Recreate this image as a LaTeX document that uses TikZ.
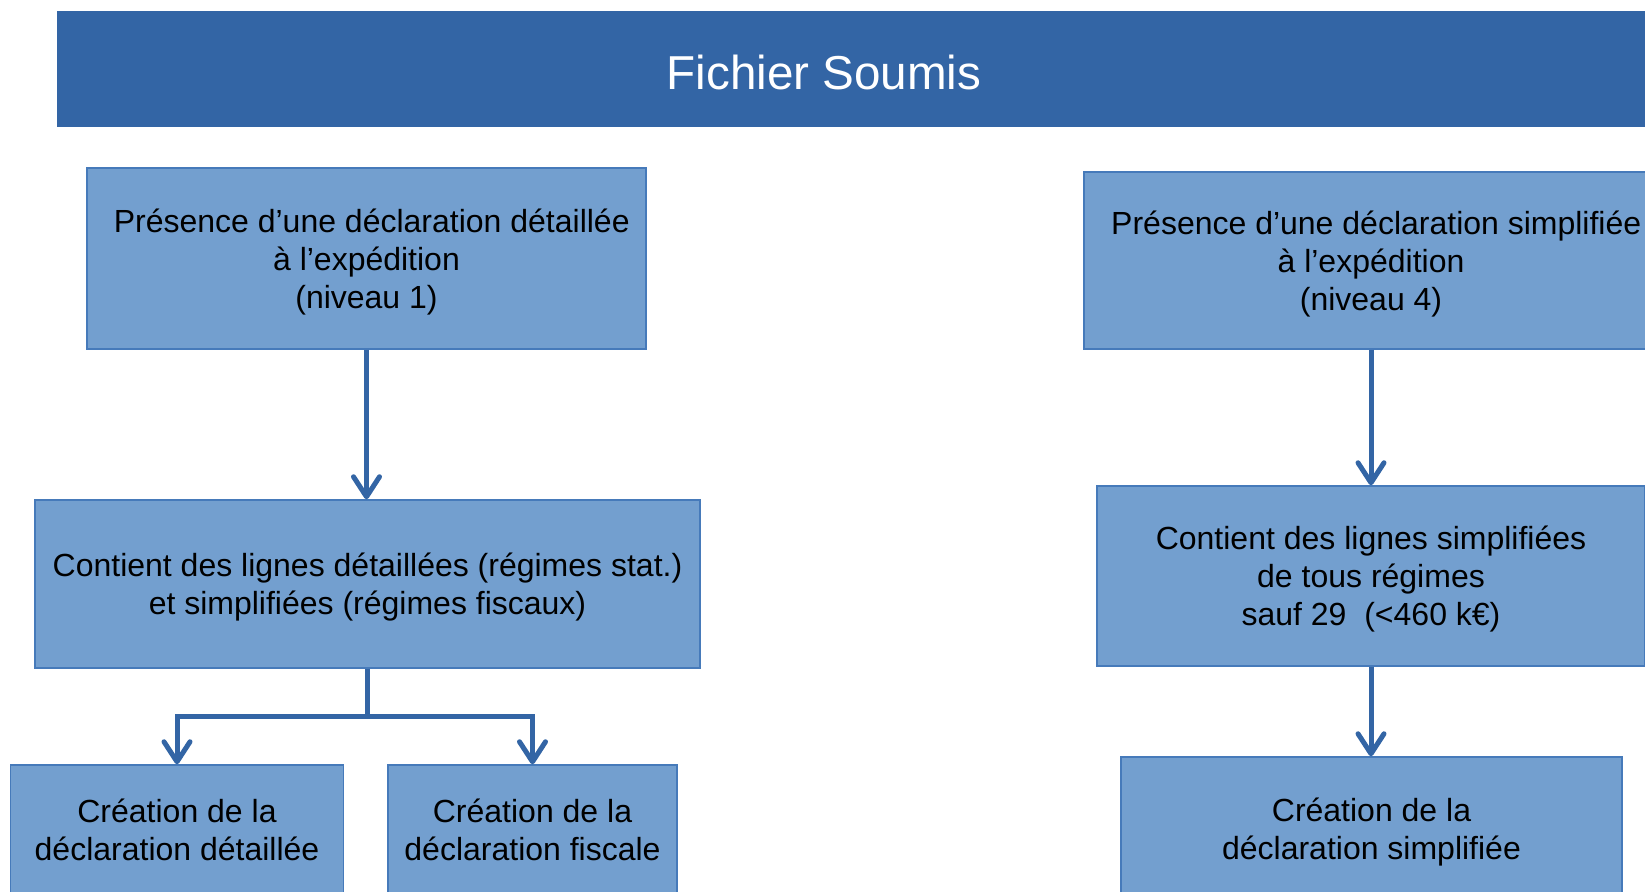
\documentclass[tikz,border=0pt]{standalone}
\usepackage{fontspec}
\setmainfont{Liberation Sans}
\usetikzlibrary{arrows.meta}
\definecolor{darkblue}{RGB}{51,101,165}
\definecolor{boxfill}{RGB}{115,159,207}
\definecolor{boxline}{RGB}{70,122,186}
\begin{document}
\begin{tikzpicture}[x=1pt,y=-1pt,
  titlebar/.style={fill=darkblue, text=white, inner sep=0pt, text height=39.5pt, text depth=0pt,
    font=\fontsize{47.6}{57}\selectfont},
  box/.style={draw=boxline, line width=1.5pt, fill=boxfill, align=center, inner sep=0pt,
    text depth=0pt, font=\fontsize{32}{37.8}\selectfont},
  conn/.style={draw=darkblue, line width=5pt, -{Straight Barb[length=20pt,width=26pt,round]}}]
\useasboundingbox (0,0) rectangle (1645,891);
\begin{scope}
\clip (0,0) rectangle (1645,891);
\node[titlebar, minimum width=1600pt, minimum height=115.5pt] (title) at (857,69.25) {\hspace*{-66pt}Fichier Soumis};
\node[box, minimum width=559pt, minimum height=181pt] (b1) at (366.5,258.5)
  {\hspace*{10.5pt}Présence d’une déclaration détaillée\\à l’expédition\\(niveau 1)};
\node[box, minimum width=574pt, minimum height=177pt] (b2) at (1371,260.5)
  {\hspace*{10.5pt}Présence d’une déclaration simplifiée\\à l’expédition\\(niveau 4)};
\node[box, minimum width=665pt, minimum height=168pt] (b3) at (367.5,584)
  {Contient des lignes détaillées (régimes stat.)\\et simplifiées (régimes fiscaux)};
\node[box, minimum width=333pt, minimum height=129pt] (b4) at (177,829.5)
  {Création de la\\déclaration détaillée};
\node[box, minimum width=289pt, minimum height=129pt] (b5) at (532.5,829.5)
  {Création de la\\déclaration fiscale};
\node[box, minimum width=548pt, minimum height=180pt] (b6) at (1371,576)
  {Contient des lignes simplifiées\\de tous régimes\\sauf 29~~(<460 k€)};
\node[box, minimum width=501pt, minimum height=143pt] (b7) at (1371.5,828.5)
  {Création de la\\déclaration simplifiée};
\end{scope}
\draw[conn] (b1.south) -- (b1.south |- b3.north);
\draw[conn] (b3.south) -- ++(0,48) -| (b4.north);
\draw[conn] (b3.south) -- ++(0,48) -| (b5.north);
\draw[conn] (b2.south) -- (b2.south |- b6.north);
\draw[conn] (b6.south) -- (b6.south |- b7.north);
\end{tikzpicture}
\end{document}
